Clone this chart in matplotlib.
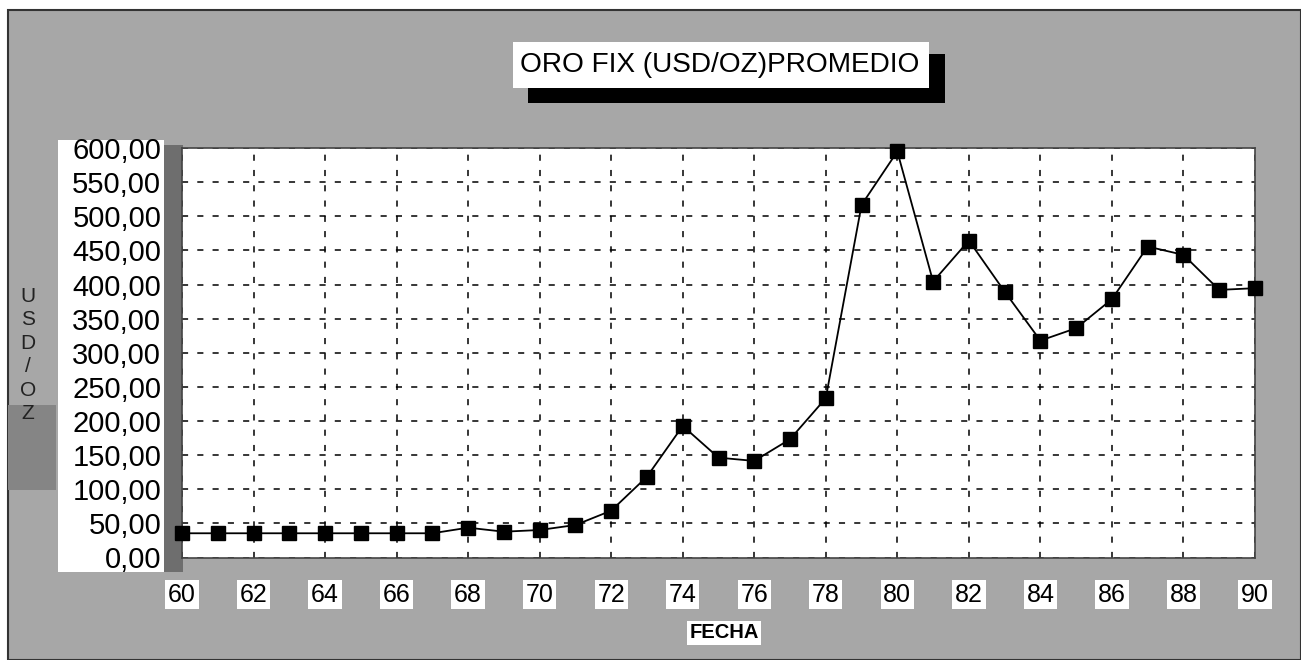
import matplotlib
matplotlib.use("Agg")
import matplotlib.pyplot as plt
from matplotlib.patches import Rectangle
from matplotlib.ticker import FuncFormatter

plt.rcParams['font.family'] = ['Liberation Sans', 'DejaVu Sans']

# datos (promedio anual, USD/oz)
anios = [60, 61, 62, 63, 64, 65, 66, 67, 68, 69, 70, 71, 72, 73, 74, 75,
         76, 77, 78, 79, 80, 81, 82, 83, 84, 85, 86, 87, 88, 89, 90]
precio = [35.5, 35.5, 35.5, 35.5, 35.5, 35.5, 35.5, 35.5, 43.7, 37.8, 40.3, 47.6,
          68.6, 118.4, 192.8, 146.3, 141.5, 173.3, 233.4, 516.7, 594.9, 404.3,
          464.4, 389.6, 317.8, 336.0, 378.5, 455.6, 443.4, 392.1, 394.6]
x_ticks = list(range(60, 91, 2))
y_ticks = list(range(0, 601, 50))

W, H = 1301, 660
fig = plt.figure(figsize=(W / 100, H / 100), dpi=100, facecolor='white')

def px(x0, y0, x1, y1):
    # caja en pixeles -> coordenadas de figura
    return (x0 / W, 1 - y1 / H), (x1 - x0) / W, (y1 - y0) / H

# fondo gris con marco
xy, w, h = px(8, 10, 1301, 660)
fig.add_artist(Rectangle(xy, w, h, transform=fig.transFigure, facecolor='#a7a7a7',
                         edgecolor='#333333', lw=1.5, zorder=0))
# columna blanca de etiquetas y sombra oscura a la izquierda del grafico
xy, w, h = px(58, 140, 164, 572)
fig.add_artist(Rectangle(xy, w, h, transform=fig.transFigure, facecolor='white',
                         edgecolor='none', zorder=0.2))
xy, w, h = px(164, 145, 183, 572)
fig.add_artist(Rectangle(xy, w, h, transform=fig.transFigure, facecolor='#6e6e6e',
                         edgecolor='none', zorder=0.2))
xy, w, h = px(8, 405, 56, 490)
fig.add_artist(Rectangle(xy, w, h, transform=fig.transFigure, facecolor='#858585',
                         edgecolor='none', zorder=0.2))

# titulo con sombra
xy, w, h = px(528, 54, 945, 103)
fig.add_artist(Rectangle(xy, w, h, transform=fig.transFigure, facecolor='black',
                         edgecolor='none', zorder=1))
xy, w, h = px(513, 42, 929, 88)
fig.add_artist(Rectangle(xy, w, h, transform=fig.transFigure, facecolor='white',
                         edgecolor='none', zorder=2))
fig.text(720 / W, 1 - 65 / H, "ORO FIX (USD/OZ)PROMEDIO", fontsize=20.2,
         ha='center', va='center', zorder=3)

ax = fig.add_axes([182 / W, 1 - 557.5 / H, 1073 / W, 409.5 / H])
ax.set_zorder(1)
ax.set_facecolor('white')
ax.plot(anios, precio, color='black', lw=1.3, marker='s', markersize=10,
        markerfacecolor='black', markeredgecolor='black', clip_on=False, zorder=5)

ax.set_xlim(60, 90)
ax.set_ylim(0, 600)
ax.set_xticks(x_ticks)
ax.set_yticks(y_ticks)
ax.yaxis.set_major_formatter(FuncFormatter(lambda v, p: f"{v:.2f}".replace('.', ',')))
ax.grid(True, color='black', linestyle=(0, (4, 6)), lw=1.1)
ax.tick_params(length=0)
ax.tick_params(axis='y', pad=15, labelsize=21)
ax.tick_params(axis='x', pad=18, labelsize=18)
for lab in ax.get_xticklabels():
    lab.set_bbox(dict(facecolor='white', edgecolor='none', pad=2))
for sp in ax.spines.values():
    sp.set_color('#444444')
    sp.set_linewidth(1.2)

fig.text(28 / W, 1 - 355 / H, "U\nS\nD\n/\nO\nZ", fontsize=15, ha='center',
         va='center', linespacing=1.3, color='#222222', zorder=3)
fig.text(724 / W, 1 - 633 / H, "FECHA", fontsize=14.5, fontweight='bold',
         ha='center', va='center', bbox=dict(facecolor='white', edgecolor='none', pad=1.5))

fig.savefig("out.png", dpi=100, facecolor=fig.get_facecolor())
